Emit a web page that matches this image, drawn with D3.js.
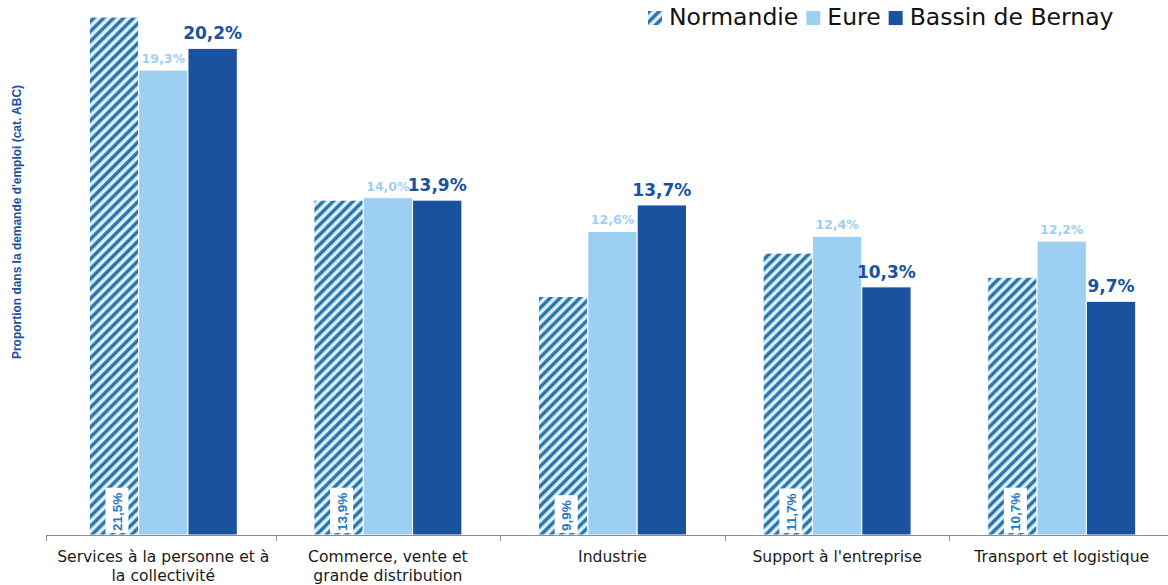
<!DOCTYPE html>
<html>
<head>
<meta charset="utf-8">
<script src="https://cdn.jsdelivr.net/npm/d3@7"></script>
<style>
  html, body { margin: 0; padding: 0; background: #fff; }
  svg { display: block; }
</style>
</head>
<body>
<div id="chart"></div>
<script>
// Grouped bars: share of job demand by sector, Normandie / Eure / Bassin de Bernay.

const categories = [
  ['Services à la personne et à', 'la collectivité'],
  ['Commerce, vente et', 'grande distribution'],
  ['Industrie'],
  ["Support à l'entreprise"],
  ['Transport et logistique'],
];
const series = ['Normandie', 'Eure', 'Bassin de Bernay'];
const normandie = [21.5, 13.9, 9.9, 11.7, 10.7];
const eure = [19.3, 14.0, 12.6, 12.4, 12.2];
const bernay = [20.2, 13.9, 13.7, 10.3, 9.7];
const yMax = 22;

const W = 1168, H = 585;
const BASE = 535, TOP = 5, LEFT = 51, RIGHT = 1174;
const GROUP = 148;
const EURE_C = '#9dcff2', BERNAY_C = '#1a52a0', NORM_TXT = '#1f7ac4';
const fmt = (v) => v.toFixed(1).replace('.', ',') + '%';

const svg = d3.select('#chart').append('svg')
  .attr('width', W).attr('height', H)
  .attr('font-family', '"DejaVu Sans", Verdana, sans-serif');

const defs = svg.append('defs');
const pat = defs.append('pattern')
  .attr('id', 'hatch')
  .attr('patternUnits', 'userSpaceOnUse')
  .attr('width', 7).attr('height', 7)
  .attr('patternTransform', 'rotate(45)');
pat.append('rect').attr('width', 7).attr('height', 7).attr('fill', '#e4f5fc');
pat.append('rect').attr('x', 0).attr('width', 1.2).attr('height', 7).attr('fill', '#3a8fd0');
pat.append('rect').attr('x', 1.2).attr('width', 2.2).attr('height', 7).attr('fill', '#1f5f8f');
pat.append('rect').attr('x', 3.4).attr('width', 0.8).attr('height', 7).attr('fill', '#5aa8dc');

const keys = categories.map((_, i) => i);
const x0 = d3.scaleBand().domain(keys).range([LEFT, RIGHT]);
const x1 = d3.scaleBand().domain(series).range([0, GROUP]);
const y = d3.scaleLinear().domain([0, yMax]).range([BASE, TOP]);
const offset = (x0.bandwidth() - GROUP) / 2;

const rows = keys.map((i) => ({
  i,
  values: [
    { s: 'Normandie', v: normandie[i] },
    { s: 'Eure', v: eure[i] },
    { s: 'Bassin de Bernay', v: bernay[i] },
  ],
}));
const fillOf = (s) => s === 'Normandie' ? 'url(#hatch)' : s === 'Eure' ? EURE_C : BERNAY_C;

const groups = svg.append('g').selectAll('g')
  .data(rows)
  .join('g')
  .attr('transform', (d) => `translate(${x0(d.i) + offset},0)`);

groups.selectAll('rect')
  .data((d) => d.values)
  .join('rect')
  .attr('x', (d) => x1(d.s))
  .attr('y', (d) => y(d.v))
  .attr('width', x1.bandwidth())
  .attr('height', (d) => BASE - y(d.v))
  .attr('fill', (d) => fillOf(d.s))
  .attr('stroke', '#fff')
  .attr('stroke-width', 1);

// Eure labels
groups.append('text')
  .attr('x', x1('Eure') + x1.bandwidth() / 2)
  .attr('y', (d) => y(eure[d.i]) - 7)
  .attr('text-anchor', 'middle')
  .attr('font-size', 12.5).attr('font-weight', 'bold')
  .attr('fill', EURE_C)
  .text((d) => fmt(eure[d.i]));

// Bassin de Bernay labels
groups.append('text')
  .attr('x', x1('Bassin de Bernay') + x1.bandwidth() / 2)
  .attr('y', (d) => y(bernay[d.i]) - 9)
  .attr('text-anchor', 'middle')
  .attr('font-size', 17).attr('font-weight', 'bold')
  .attr('fill', BERNAY_C)
  .text((d) => fmt(bernay[d.i]));

// Normandie labels: vertical, white box at the base of the bar
groups.each(function (d) {
  const g = d3.select(this);
  const cx = x1('Normandie') + x1.bandwidth() / 2 + 3;
  const lbl = g.append('g').attr('transform', `translate(${cx},${BASE - 2}) rotate(-90)`);
  const box = lbl.append('rect').attr('fill', '#fff');
  const t = lbl.append('text')
    .attr('x', 2).attr('y', 5)
    .attr('font-family', '"Liberation Sans Narrow", "Liberation Sans", Arial, sans-serif')
    .attr('font-size', 13.5).attr('font-weight', 'bold')
    .attr('fill', NORM_TXT)
    .text(fmt(normandie[d.i]));
  const bb = t.node().getBBox();
  box.attr('x', 0).attr('y', -11.5).attr('width', bb.width + 7).attr('height', 23);
});

// x axis
const axis = svg.append('g');
axis.append('line')
  .attr('x1', LEFT - 5).attr('x2', RIGHT)
  .attr('y1', BASE + 0.5).attr('y2', BASE + 0.5)
  .attr('stroke', '#8c8c8c');
axis.selectAll('.tick')
  .data(keys.slice(1))
  .join('line')
  .attr('x1', (i) => Math.round(x0(i)) + 0.5).attr('x2', (i) => Math.round(x0(i)) + 0.5)
  .attr('y1', BASE).attr('y2', BASE + 6)
  .attr('stroke', '#8c8c8c');
axis.append('line')
  .attr('x1', LEFT - 4.5).attr('x2', LEFT - 4.5)
  .attr('y1', BASE).attr('y2', BASE + 6)
  .attr('stroke', '#8c8c8c');

const catText = axis.selectAll('text')
  .data(keys)
  .join('text')
  .attr('text-anchor', 'middle')
  .attr('font-size', 15.6)
  .attr('fill', '#1a1a1a');
catText.each(function (i) {
  const t = d3.select(this);
  categories[i].forEach((line, k) => {
    t.append('tspan')
      .attr('x', x0(i) + x0.bandwidth() / 2)
      .attr('y', 562 + k * 19)
      .text(line);
  });
});

// y axis title
svg.append('text')
  .attr('transform', 'translate(21,222) rotate(-90)')
  .attr('text-anchor', 'middle')
  .attr('font-family', '"Liberation Sans Narrow", "Liberation Sans", Arial, sans-serif')
  .attr('font-size', 12).attr('font-weight', 'bold')
  .attr('fill', BERNAY_C)
  .attr('textLength', 274).attr('lengthAdjust', 'spacingAndGlyphs')
  .text("Proportion dans la demande d'emploi (cat. ABC)");

// legend
const legend = svg.append('g').attr('transform', 'translate(648,0)');
let lx = 0;
series.forEach((s) => {
  const g = legend.append('g').attr('transform', `translate(${lx},0)`);
  g.append('rect').attr('x', 0).attr('y', 11).attr('width', 14).attr('height', 14)
    .attr('fill', fillOf(s));
  const t = g.append('text').attr('x', 21).attr('y', 25)
    .attr('font-size', 23.5).attr('fill', '#111').text(s);
  lx += 21 + t.node().getComputedTextLength() + 8;
});
</script>
</body>
</html>
